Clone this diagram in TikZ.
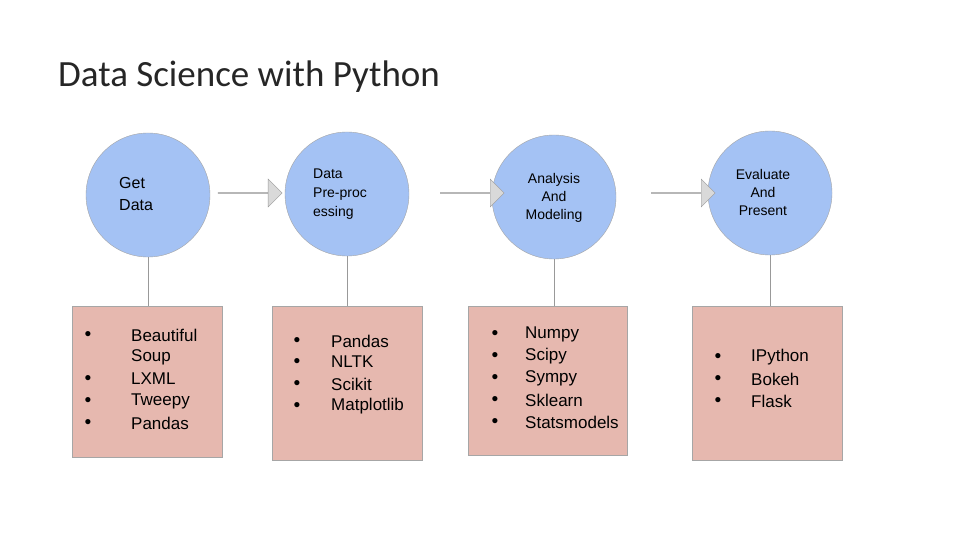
\documentclass[tikz,border=0pt]{standalone}
\usepackage{fontspec}
\setmainfont{Liberation Sans}
\newfontfamily\titlefont{Carlito}
\usetikzlibrary{shapes.arrows}
\definecolor{cblue}{HTML}{A4C2F4}
\definecolor{cpink}{HTML}{E6B8AF}
\definecolor{cgray}{HTML}{D9D9D9}
\begin{document}
\begin{tikzpicture}[x=1pt,y=-1pt,
  circ/.style={circle,fill=cblue,draw=gray!70,minimum size=124pt,inner sep=0pt},
  box/.style={fill=cpink,draw=gray!70,line width=0.6pt},
  conn/.style={draw=gray!80,line width=0.6pt},
  arr/.style={single arrow,fill=cgray,draw=gray!80,minimum height=64pt,minimum width=28pt,single arrow head extend=7pt,inner sep=0pt,single arrow tip angle=90},
  ctext/.style={font=\fontsize{14}{18}\selectfont,align=center},
  ltext/.style={font=\fontsize{17}{22}\selectfont,anchor=west,inner sep=0pt},
  bul/.style={font=\fontsize{12}{14}\selectfont,anchor=center,inner sep=0pt}]
\useasboundingbox (0,0) rectangle (960,540);
\fill[white] (0,0) rectangle (960,540);
\node[anchor=base west,inner sep=0pt,font=\titlefont\fontsize{37}{40}\selectfont,text=black!85] (title) at (58,87) {Data Science with Python};
% circles
\node[circ] (c1) at (148,195) {};
\node[circ] (c2) at (347,194) {};
\node[circ] (c3) at (554,197) {};
\node[circ] (c4) at (770,193) {};
% boxes
\node[box,anchor=north west,minimum width=150pt,minimum height=151pt] (b1) at (72,306) {};
\node[box,anchor=north west,minimum width=150pt,minimum height=154pt] (b2) at (272,306) {};
\node[box,anchor=north west,minimum width=159pt,minimum height=149pt] (b3) at (468,306) {};
\node[box,anchor=north west,minimum width=150pt,minimum height=154pt] (b4) at (692,306) {};
\draw[conn] (c1.south) -- (b1.north -| c1.south);
\draw[conn] (c2.south) -- (b2.north -| c2.south);
\draw[conn] (c3.south) -- (b3.north -| c3.south);
\draw[conn] (c4.south) -- (b4.north -| c4.south);
% arrows
\node[arr] (a1) at (250,193) {};
\node[arr] (a2) at (472,193) {};
\node[arr] (a3) at (683,193) {};
% circle texts
\node[anchor=west,align=left,font=\fontsize{16}{22}\selectfont,inner sep=0pt] (t1) at (119,194) {Get\\Data};
\node[anchor=west,align=left,font=\fontsize{14}{19}\selectfont,inner sep=0pt] (t2) at (313,194) {Data\\Pre-proc\\essing};
\node[ctext] (t3) at (554,198) {Analysis\\And\\Modeling};
\node[ctext] (t4) at (763,192) {Evaluate\\And\\Present};
% lists
\foreach \y/\t in {335/Beautiful,357/Soup,379/LXML,401/Tweepy,423/Pandas} \node[ltext] at (131,\y) {\t};
\foreach \y in {335,379,401,423} \node[bul] at (88,\y) {●};
\foreach \y/\t in {341/Pandas,362/NLTK,384/Scikit,406/Matplotlib} {\node[ltext] at (331,\y) {\t}; \node[bul] at (297,\y) {●};}
\foreach \y/\t in {334/Numpy,356/Scipy,378/Sympy,400/Sklearn,422/Statsmodels} {\node[ltext] at (525,\y) {\t}; \node[bul] at (495,\y) {●};}
\foreach \y/\t in {357/IPython,379/Bokeh,401/Flask} {\node[ltext] at (751,\y) {\t}; \node[bul] at (718,\y) {●};}
\end{tikzpicture}
\end{document}
